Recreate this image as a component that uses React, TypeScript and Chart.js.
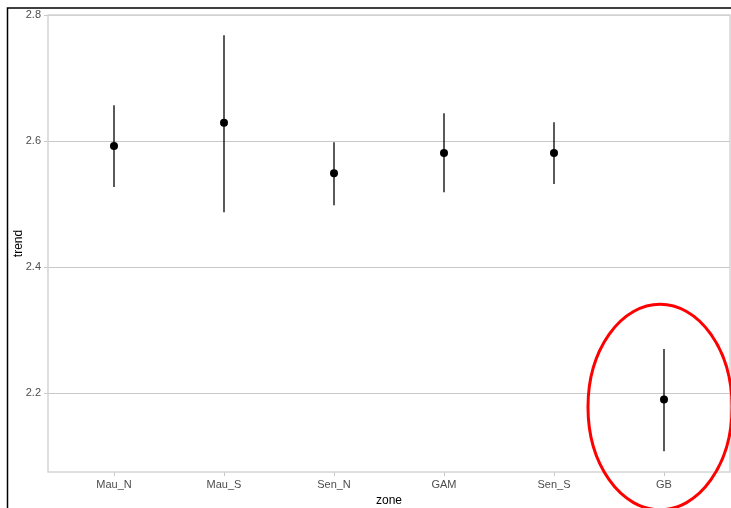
import React, { useEffect, useRef } from "react";
import { Chart, registerables } from "chart.js";

Chart.register(...registerables);

const zones = ["Mau_N", "Mau_S", "Sen_N", "GAM", "Sen_S", "GB"];
const trend = [2.592, 2.629, 2.549, 2.581, 2.581, 2.19];
const lower = [2.527, 2.487, 2.498, 2.519, 2.532, 2.108];
const upper = [2.657, 2.768, 2.598, 2.644, 2.63, 2.27];
const yTicks = [2.2, 2.4, 2.6, 2.8];

// highlight ellipse around GB (data coordinates)
const ellipseCenter = { x: 5.964, y: 2.178 };
const ellipseRadius = { x: 0.655, y: 0.163 };

const FONT = "'Liberation Sans', Arial, sans-serif";

export default function App() {
  const ref = useRef<HTMLCanvasElement | null>(null);

  useEffect(() => {
    if (!ref.current) return;

    const decor = {
      id: "decor",
      beforeDatasetsDraw(chart: any) {
        const { ctx, chartArea, scales } = chart;
        ctx.save();
        ctx.strokeStyle = "#d4d4d4";
        ctx.lineWidth = 1.5;
        ctx.strokeRect(chartArea.left, chartArea.top, chartArea.right - chartArea.left, chartArea.bottom - chartArea.top);
        ctx.strokeStyle = "#000";
        ctx.lineWidth = 1.3;
        zones.forEach((_, i) => {
          const x = scales.x.getPixelForValue(i + 1);
          ctx.beginPath();
          ctx.moveTo(x, scales.y.getPixelForValue(lower[i]));
          ctx.lineTo(x, scales.y.getPixelForValue(upper[i]));
          ctx.stroke();
        });
        ctx.restore();
      },
      afterDraw(chart: any) {
        const { ctx, scales } = chart;
        ctx.save();
        const cx = scales.x.getPixelForValue(ellipseCenter.x);
        const cy = scales.y.getPixelForValue(ellipseCenter.y);
        const rx = Math.abs(scales.x.getPixelForValue(ellipseCenter.x + ellipseRadius.x) - cx);
        const ry = Math.abs(scales.y.getPixelForValue(ellipseCenter.y + ellipseRadius.y) - cy);
        ctx.strokeStyle = "#ff0000";
        ctx.lineWidth = 3;
        ctx.beginPath();
        ctx.ellipse(cx, cy, rx, ry, 0, 0, Math.PI * 2);
        ctx.stroke();
        // image frame
        ctx.strokeStyle = "#000";
        ctx.lineWidth = 1.5;
        ctx.beginPath();
        ctx.moveTo(7.5, 508);
        ctx.lineTo(7.5, 8);
        ctx.lineTo(731, 8);
        ctx.stroke();
        ctx.restore();
      },
    };

    const chart = new Chart(ref.current, {
      type: "scatter",
      data: {
        datasets: [
          {
            data: zones.map((_, i) => ({ x: i + 1, y: trend[i] })),
            pointRadius: 4,
            pointHoverRadius: 4,
            backgroundColor: "#000",
            borderWidth: 0,
          },
        ],
      },
      options: {
        animation: false,
        responsive: false,
        devicePixelRatio: 1,
        layout: { autoPadding: false, padding: { left: 0, right: 1, top: 15, bottom: 0 } },
        plugins: { legend: { display: false }, tooltip: { enabled: false } },
        scales: {
          x: {
            type: "linear",
            min: 0.4,
            max: 6.6,
            afterBuildTicks: (s: any) => {
              s.ticks = zones.map((_, i) => ({ value: i + 1 }));
            },
            afterFit: (s: any) => {
              s.height = 36;
            },
            ticks: {
              autoSkip: false,
              maxRotation: 0,
              padding: 2,
              color: "#4d4d4d",
              font: { family: FONT, size: 11 },
              callback: (v: any) => zones[Math.round(v) - 1] ?? "",
            },
            grid: { drawOnChartArea: false, drawTicks: true, tickLength: 4, color: "#c8c8c8" },
            border: { display: false },
            title: {
              display: true,
              text: "zone",
              color: "#000",
              font: { family: FONT, size: 12 },
              padding: { top: 6, bottom: 0 },
            },
          },
          y: {
            type: "linear",
            min: 2.075,
            max: 2.8,
            afterBuildTicks: (s: any) => {
              s.ticks = yTicks.map((v) => ({ value: v }));
            },
            afterFit: (s: any) => {
              s.width = 48;
            },
            ticks: {
              padding: 3,
              color: "#4d4d4d",
              font: { family: FONT, size: 11 },
              callback: (v: any) => Number(v).toFixed(1),
            },
            grid: { drawOnChartArea: true, drawTicks: true, tickLength: 4, color: "#c8c8c8", lineWidth: 1 },
            border: { display: false },
            title: {
              display: true,
              text: "trend",
              color: "#000",
              font: { family: FONT, size: 12 },
              padding: { top: 11, bottom: 0 },
            },
          },
        },
      },
      plugins: [decor],
    });
    return () => chart.destroy();
  }, []);

  return (
    <div style={{ position: "absolute", left: 0, top: 0, width: 731, height: 508, background: "#fff" }}>
      <canvas ref={ref} width={731} height={508} style={{ width: 731, height: 508, display: "block" }} />
    </div>
  );
}
